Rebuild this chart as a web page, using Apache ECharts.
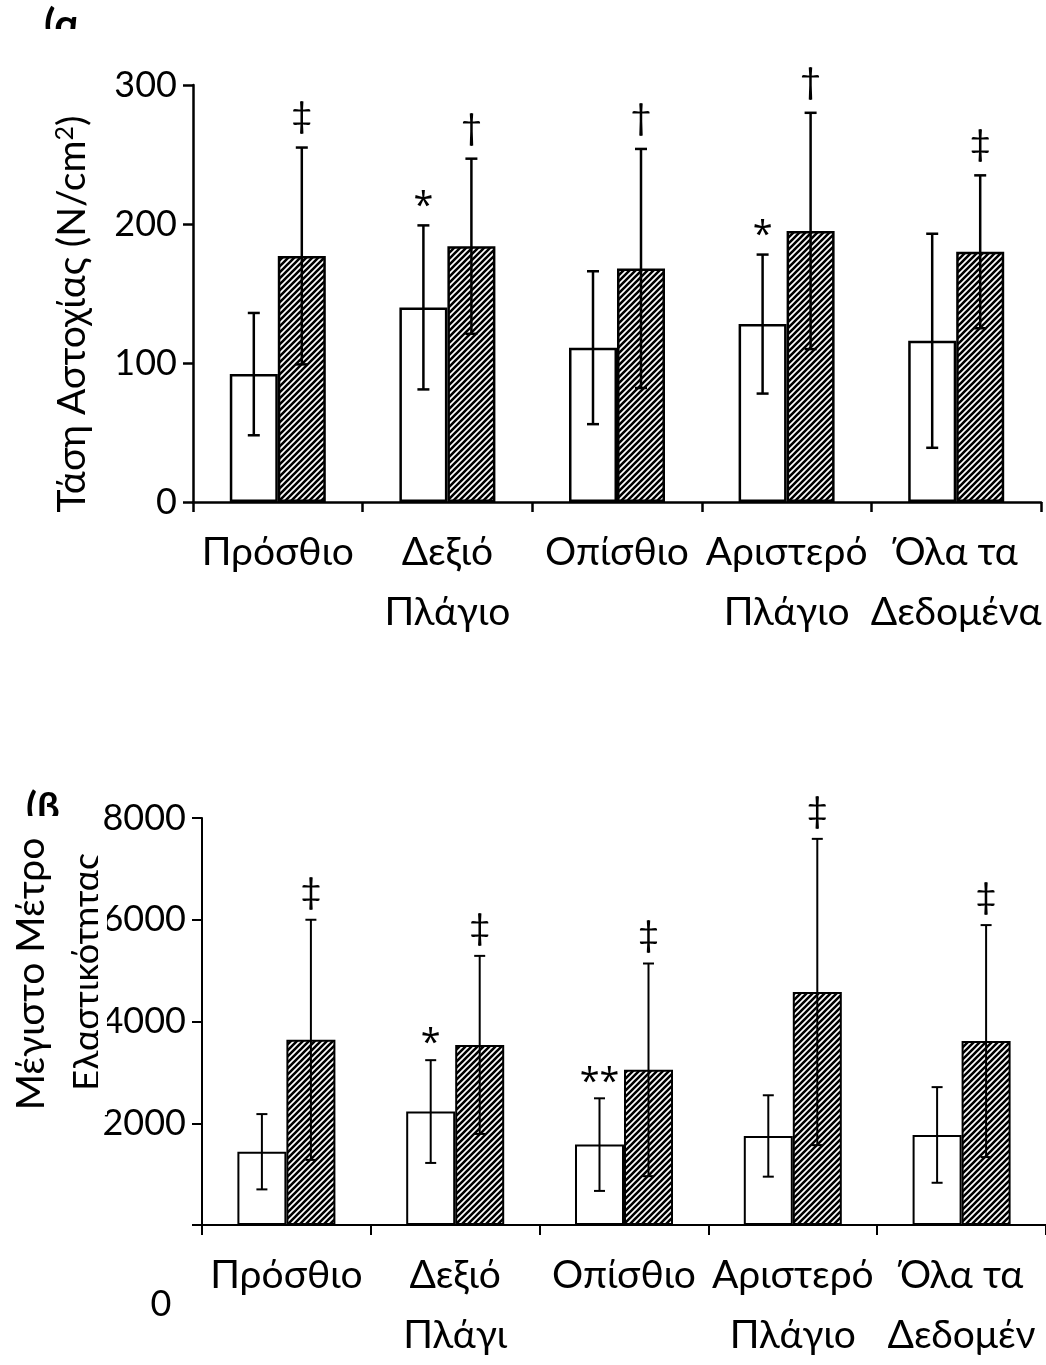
<!DOCTYPE html>
<html>
<head>
<meta charset="utf-8">
<script src="https://cdn.jsdelivr.net/npm/echarts@6/dist/echarts.min.js"></script>
<style>
  html, body { margin: 0; padding: 0; background: #fff; }
  #chart { width: 1046px; height: 1365px; }
</style>
</head>
<body>
<div id="chart"></div>
<script>
// Panel (α): failure stress, N/cm²
const categoriesA = ['Πρόσθιο', 'Δεξιό\nΠλάγιο', 'Οπίσθιο', 'Αριστερό\nΠλάγιο', 'Όλα τα\nΔεδομένα'];
const stressCtrlMean = [92, 140, 111, 128, 116];
const stressCtrlSd   = [44, 59, 55, 50, 77];
const stressTrtMean  = [177, 184, 168, 195, 180];
const stressTrtSd    = [78, 63, 86, 85, 55];
const stressCtrlMarks = ['', '*', '', '*', ''];
const stressTrtMarks  = ['‡', '†', '†', '†', '‡'];
const stressTicks = { min: 0, max: 300, interval: 100 };

// Panel (β): maximum elastic modulus
const categoriesB = ['Πρόσθιο', 'Δεξιό\nΠλάγι', 'Οπίσθιο', 'Αριστερό\nΠλάγιο', 'Όλα τα\nΔεδομέν'];
const modCtrlMean = [1440, 2230, 1580, 1750, 1770];
const modCtrlSd   = [740, 1010, 910, 800, 940];
const modTrtMean  = [3640, 3540, 3050, 4580, 3615];
const modTrtSd    = [2360, 1750, 2090, 3010, 2280];
const modCtrlMarks = ['', '*', '**', '', ''];
const modTrtMarks  = ['‡', '‡', '‡', '‡', '‡'];
const modTicks = { min: 0, max: 8000, interval: 2000 };

const FONT = "Lato, 'Open Sans', 'Noto Sans', sans-serif";
const STAR_FONT = "'Open Sans', 'Noto Sans', sans-serif";

// diagonal hatch fill
function hatch() {
  const s = 6;
  const c = document.createElement('canvas');
  c.width = s; c.height = s;
  const g = c.getContext('2d');
  g.fillStyle = '#fff';
  g.fillRect(0, 0, s, s);
  g.strokeStyle = '#000';
  g.lineWidth = 2.6;
  g.beginPath();
  g.moveTo(-s, s); g.lineTo(s, -s);
  g.moveTo(0, s); g.lineTo(s, 0);
  g.moveTo(0, 2 * s); g.lineTo(2 * s, 0);
  g.stroke();
  return { image: c, repeat: 'repeat' };
}
const hatchFill = hatch();

function xAxis(gridIndex, data, lw) {
  return {
    type: 'category', gridIndex, data,
    axisLine: { show: true, lineStyle: { color: '#000', width: lw } },
    axisTick: { show: true, length: 10, lineStyle: { color: '#000', width: lw } },
    axisLabel: { interval: 0, margin: 20, color: '#000', fontFamily: FONT, fontSize: 39, lineHeight: 60 },
    splitLine: { show: false }
  };
}
function yAxis(gridIndex, t, lw, hideZero) {
  return {
    type: 'value', gridIndex, min: t.min, max: t.max, interval: t.interval,
    axisLine: { show: true, lineStyle: { color: '#000', width: lw } },
    axisTick: { show: true, length: 10, lineStyle: { color: '#000', width: lw } },
    axisLabel: {
      margin: 16, color: '#000', fontFamily: FONT, fontSize: 36,
      formatter: v => (hideZero && v === 0) ? '' : String(v)
    },
    splitLine: { show: false }
  };
}
function bars(idx, means, fill, bw, barW) {
  return {
    type: 'bar', xAxisIndex: idx, yAxisIndex: idx, data: means,
    barWidth: barW, barGap: '0%',
    itemStyle: { color: fill, borderColor: '#000', borderWidth: bw },
    emphasis: { disabled: true }, z: 2
  };
}
function errors(idx, means, sds, marks, offset, lw, cap, gap) {
  return {
    type: 'custom', xAxisIndex: idx, yAxisIndex: idx, clip: false, z: 5,
    data: means.map((m, i) => [i, m, sds[i]]),
    encode: { x: 0, y: 1 },
    renderItem: (params, api) => {
      const i = api.value(0), m = api.value(1), s = api.value(2);
      const top = api.coord([i, m + s]);
      const bot = api.coord([i, m - s]);
      const x = top[0] + offset;
      const st = { stroke: '#000', lineWidth: lw };
      const mark = marks[params.dataIndex];
      const isStar = mark.indexOf('*') >= 0;
      return {
        type: 'group',
        children: [
          { type: 'line', shape: { x1: x, y1: top[1], x2: x, y2: bot[1] }, style: st },
          { type: 'line', shape: { x1: x - cap / 2, y1: top[1], x2: x + cap / 2, y2: top[1] }, style: st },
          { type: 'line', shape: { x1: x - cap / 2, y1: bot[1], x2: x + cap / 2, y2: bot[1] }, style: st },
          { type: 'text', x: x, y: top[1] - gap + (isStar ? 12 : 0),
            style: { text: mark, fill: '#000', font: isStar ? ('36px ' + STAR_FONT) : ('37px ' + FONT),
                     align: 'center', verticalAlign: 'middle' } }
        ]
      };
    }
  };
}

const chart = echarts.init(document.getElementById('chart'), null, { renderer: 'canvas' });
chart.setOption({
  backgroundColor: '#fff',
  animation: false,
  grid: [
    { left: 193, top: 85, width: 848, height: 417 },
    { left: 202, top: 818, width: 848.5, height: 417 }
  ],
  xAxis: [xAxis(0, categoriesA, 2.5), xAxis(1, categoriesB, 2)],
  yAxis: [yAxis(0, stressTicks, 2.5, false), yAxis(1, modTicks, 2, true)],
  series: [
    bars(0, stressCtrlMean, '#fff', 2.5, 48),
    bars(0, stressTrtMean, hatchFill, 2.5, 48),
    errors(0, stressCtrlMean, stressCtrlSd, stressCtrlMarks, -24, 2.5, 12, 31),
    errors(0, stressTrtMean, stressTrtSd, stressTrtMarks, 24, 2.5, 12, 31),
    bars(1, modCtrlMean, '#fff', 2, 49),
    bars(1, modTrtMean, hatchFill, 2, 49),
    errors(1, modCtrlMean, modCtrlSd, modCtrlMarks, -24.5, 2, 11, 28),
    errors(1, modTrtMean, modTrtSd, modTrtMarks, 24.5, 2, 11, 28)
  ],
  graphic: [
    // panel tags
    { type: 'text', left: 44, top: 4, style: { text: '(α', font: 'bold 42px ' + FONT, fill: '#000' } },
    { type: 'rect', shape: { x: 30, y: 29, width: 80, height: 30 }, style: { fill: '#fff' }, z: 100 },
    { type: 'text', left: 26, top: 788, style: { text: '(β', font: 'bold 40px ' + FONT, fill: '#000' } },
    { type: 'rect', shape: { x: 15, y: 816, width: 80, height: 20 }, style: { fill: '#fff' }, z: 100 },
    // y titles
    { type: 'text', x: 72, y: 314, rotation: Math.PI / 2,
      style: { text: 'Τάση Αστοχίας (N/cm{s|2})', font: '39px ' + FONT, fill: '#000', align: 'center', verticalAlign: 'middle',
               rich: { s: { fontSize: 25, fontFamily: FONT, verticalAlign: 'top', fill: '#000' } } } },
    { type: 'text', x: 31, y: 974, rotation: Math.PI / 2,
      style: { text: 'Μέγιστο Μέτρο', font: '39px ' + FONT, fill: '#000', align: 'center', verticalAlign: 'middle' } },
    { type: 'text', x: 87, y: 972, rotation: Math.PI / 2,
      style: { text: 'Ελαστικότητας', font: '36px ' + FONT, fill: '#000', align: 'center', verticalAlign: 'middle' } },
    { type: 'rect', shape: { x: 98, y: 830, width: 9, height: 285 }, style: { fill: '#fff' }, z: 100 },
    // stray zero label of the lower value axis
    { type: 'text', x: 161, y: 1304, style: { text: '0', font: '36px ' + FONT, fill: '#000', align: 'center', verticalAlign: 'middle' } },
    // cut-off lower edge of the middle label
    { type: 'rect', shape: { x: 555, y: 1292, width: 152, height: 14 }, style: { fill: '#fff' }, z: 100 }
  ]
});
</script>
</body>
</html>
